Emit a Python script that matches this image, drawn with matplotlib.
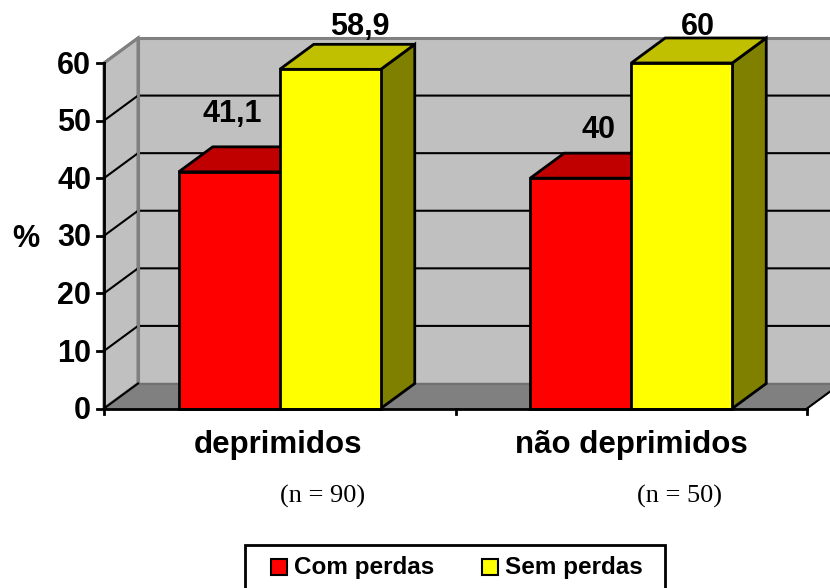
import matplotlib
matplotlib.use('Agg')
import matplotlib.pyplot as plt
from matplotlib.patches import Polygon, Rectangle

grupos = ['deprimidos', 'não deprimidos']
amostras = ['(n = 90)', '(n = 50)']
series = ['Com perdas', 'Sem perdas']
com_perdas = [41.1, 40]
sem_perdas = [58.9, 60]
rotulos_com = ['41,1', '40']
rotulos_sem = ['58,9', '60']
ticks_y = [0, 10, 20, 30, 40, 50, 60]

W, H = 830, 588
plt.rcParams['font.family'] = ['Liberation Sans', 'DejaVu Sans']

fig = plt.figure(figsize=(W / 100, H / 100), dpi=100)
# eixo = plano da frente do grafico
x0, x1, y0, y60 = 104, 807, 408.5, 63
ax = fig.add_axes([x0 / W, 1 - y0 / H, (x1 - x0) / W, (y0 - y60) / H])
ax.set_xlim(0, 2)
ax.set_ylim(0, 60)
ax.axis('off')

# profundidade do efeito 3d em unidades dos dados
dx = 34 / (x1 - x0) * 2
dy = 25 / (y0 - y60) * 60
largura = 101 / (x1 - x0) * 2


def poly(pts, fc, ec='black', lw=2, z=3):
    ax.add_patch(Polygon(pts, closed=True, fc=fc, ec=ec, lw=lw, zorder=z,
                         clip_on=False, joinstyle='miter'))


def texto_px(x, y, s, **kw):
    # texto posicionado em pixels da imagem, linha de base em y
    fig.text(x / W, 1 - y / H, s, va='baseline', **kw)


# paredes
ymax = ticks_y[-1]
poly([(dx, dy), (2 + dx, dy), (2 + dx, ymax + dy), (dx, ymax + dy)], '#c0c0c0', '#808080', 2.2, 1)
poly([(0, 0), (dx, dy), (dx, ymax + dy), (0, ymax)], '#c0c0c0', '#808080', 2.2, 1)
poly([(0, 0), (2, 0), (2 + dx, dy), (dx, dy)], '#808080', '#808080', 1, 1)

# linhas de grade
for t in ticks_y[1:-1]:
    ax.plot([0, dx, 2 + dx], [t, t + dy, t + dy], color='black', lw=1.5, zorder=2, clip_on=False)
ax.plot([dx, dx], [dy, ymax + dy], color='#808080', lw=2.2, zorder=2, clip_on=False)
ax.plot([dx, 2 + dx], [dy, dy], color='#707070', lw=1.5, zorder=2, clip_on=False)
ax.plot([0, dx], [ymax, ymax + dy], color='#808080', lw=2, zorder=2, clip_on=False)
ax.plot([0, dx], [0, dy], color='black', lw=1.5, zorder=2, clip_on=False)
ax.plot([2, 2 + dx], [0, dy], color='black', lw=1.5, zorder=2, clip_on=False)


def barra(esq, v, frente, topo, lado, z):
    poly([(esq + largura, 0), (esq + largura + dx, dy), (esq + largura + dx, v + dy), (esq + largura, v)], lado, z=z)
    poly([(esq, v), (esq + dx, v + dy), (esq + largura + dx, v + dy), (esq + largura, v)], topo, z=z)
    poly([(esq, 0), (esq + largura, 0), (esq + largura, v), (esq, v)], frente, z=z + 0.1)


for i in range(len(grupos)):
    c = i + 0.5
    barra(c - largura, com_perdas[i], '#ff0000', '#c00000', '#800000', 3)
    barra(c, sem_perdas[i], '#ffff00', '#c0c000', '#808000', 4)

# rotulos de dados, nomes das categorias e tamanho da amostra
xs_com, ys_com = [232, 598], [122, 138]
xs_sem, ys_sem = [360, 698], [35, 35]
xs_cat, xs_n = [278, 631], [323, 679]
for i in range(len(grupos)):
    texto_px(xs_com[i], ys_com[i], rotulos_com[i], fontsize=22, fontweight='bold', ha='center', zorder=6)
    texto_px(xs_sem[i], ys_sem[i], rotulos_sem[i], fontsize=22, fontweight='bold', ha='center', zorder=6)
    texto_px(xs_cat[i], 453, grupos[i], fontsize=22.5, fontweight='bold', ha='center')
    texto_px(xs_n[i], 503, amostras[i], fontsize=19, family='Liberation Serif', ha='center')

# eixos da frente
ax.plot([0, 0], [0, ymax], color='black', lw=2, zorder=7, clip_on=False)
ax.plot([0, 2], [0, 0], color='black', lw=2, zorder=7, clip_on=False)
for t in ticks_y:
    ax.plot([-0.02, 0], [t, t], color='black', lw=2, zorder=7, clip_on=False)
    ax.annotate(str(t), (0, t), xytext=(-13, -10.7), textcoords='offset pixels', fontsize=22,
                fontweight='bold', ha='right', va='baseline', annotation_clip=False)
for k in range(3):
    ax.plot([k, k], [0, -1], color='black', lw=2, zorder=7, clip_on=False)

texto_px(25.5, 247, '%', fontsize=22, fontweight='bold', ha='center')

# legenda
fig.add_artist(Rectangle((245 / W, 1 - 600 / H), 420 / W, 55 / H, transform=fig.transFigure,
                         fc='white', ec='black', lw=2))
for cor, nome, xq in zip(['#ff0000', '#ffff00'], series, [270.5, 481.5]):
    fig.add_artist(Rectangle((xq / W, 1 - 575 / H), 16.5 / W, 16.5 / H, transform=fig.transFigure,
                             fc=cor, ec='black', lw=1.5))
    texto_px(xq + 23.5, 574, nome, fontsize=17.5, fontweight='bold', ha='left')

fig.savefig('out.png', dpi=100)
